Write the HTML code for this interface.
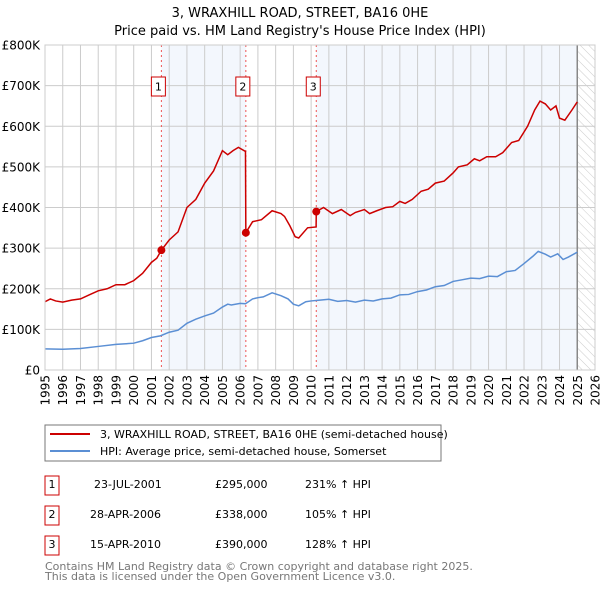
<!DOCTYPE html>
<html><head><meta charset="utf-8"><style>
body{margin:0;background:#fff;}
svg{display:block;font-family:"DejaVu Sans","Liberation Sans",sans-serif;}
</style></head><body>
<svg id="c" width="600" height="590" viewBox="0 0 600 590">
<defs><pattern id="hatch" width="6" height="6" patternUnits="userSpaceOnUse" patternTransform="rotate(-45)"><line x1="0" y1="0" x2="0" y2="6" stroke="#ccc" stroke-width="1"/></pattern></defs>
<text x="300" y="17" text-anchor="middle" font-size="13">3, WRAXHILL ROAD, STREET, BA16 0HE</text>
<text x="300" y="35" text-anchor="middle" font-size="13">Price paid vs. HM Land Registry's House Price Index (HPI)</text>
<g id="plot"></g>
<rect x="45" y="425" width="396" height="36" fill="#fff" stroke="#777"/>
<line x1="50" y1="434" x2="90" y2="434" stroke="#cc0000" stroke-width="2"/>
<text x="100" y="438" font-size="11">3, WRAXHILL ROAD, STREET, BA16 0HE (semi-detached house)</text>
<line x1="50" y1="451" x2="90" y2="451" stroke="#5b8fd4" stroke-width="2"/>
<text x="100" y="455" font-size="11">HPI: Average price, semi-detached house, Somerset</text>
<g font-size="11">
<rect x="45" y="476" width="14" height="19" fill="none" stroke="#cc0000"/><text x="52" y="488" text-anchor="middle">1</text>
<text x="94" y="488">23-JUL-2001</text><text x="215" y="488">£295,000</text><text x="305" y="488">231% ↑ HPI</text>
<rect x="45" y="506" width="14" height="19" fill="none" stroke="#cc0000"/><text x="52" y="518" text-anchor="middle">2</text>
<text x="90" y="518">28-APR-2006</text><text x="215" y="518">£338,000</text><text x="305" y="518">105% ↑ HPI</text>
<rect x="45" y="536" width="14" height="19" fill="none" stroke="#cc0000"/><text x="52" y="548" text-anchor="middle">3</text>
<text x="90" y="548">15-APR-2010</text><text x="215" y="548">£390,000</text><text x="305" y="548">128% ↑ HPI</text>
</g>
<text x="45" y="570" font-size="11" fill="#777">Contains HM Land Registry data © Crown copyright and database right 2025.</text>
<text x="45" y="580" font-size="11" fill="#777">This data is licensed under the Open Government Licence v3.0.</text>
</svg>
<script>
const yTicks=[0,100,200,300,400,500,600,700,800];
const yTickLabels=["£0","£100K","£200K","£300K","£400K","£500K","£600K","£700K","£800K"];
const xYears=[1995,1996,1997,1998,1999,2000,2001,2002,2003,2004,2005,2006,2007,2008,2009,2010,2011,2012,2013,2014,2015,2016,2017,2018,2019,2020,2021,2022,2023,2024,2025,2026];
const hpiT=[1995,1996,1997,1998,1999,2000,2000.5,2001,2001.5,2002,2002.5,2003,2003.5,2004,2004.5,2005,2005.3,2005.5,2006,2006.3,2006.7,2007,2007.3,2007.8,2008.3,2008.7,2009,2009.3,2009.7,2010,2010.5,2011,2011.5,2012,2012.5,2013,2013.5,2014,2014.5,2015,2015.5,2016,2016.5,2017,2017.5,2018,2018.5,2019,2019.5,2020,2020.5,2021,2021.5,2022,2022.5,2022.8,2023.2,2023.5,2023.9,2024.2,2024.5,2025];
const hpiV=[52,51,53,58,63,66,72,80,84,93,98,115,125,133,140,155,162,160,164,163,175,178,180,190,183,175,162,158,168,170,172,174,169,171,167,172,170,175,177,185,186,193,197,205,208,218,222,226,225,231,230,242,245,262,280,292,285,278,286,272,278,290];
const propT=[1995,1995.3,1995.6,1996,1996.5,1997,1997.5,1998,1998.5,1999,1999.5,2000,2000.5,2001,2001.3,2001.56,2002,2002.5,2003,2003.5,2004,2004.5,2005,2005.3,2005.6,2005.9,2006.3,2006.32,2006.7,2007.2,2007.8,2008.3,2008.5,2008.8,2009.1,2009.3,2009.8,2010.28,2010.29,2010.7,2011.2,2011.7,2012.2,2012.5,2013,2013.3,2013.7,2014.2,2014.6,2015,2015.3,2015.7,2016.2,2016.6,2017,2017.5,2018,2018.3,2018.8,2019.2,2019.5,2019.9,2020.4,2020.8,2021.3,2021.7,2022.2,2022.6,2022.9,2023.2,2023.5,2023.8,2024.0,2024.3,2024.7,2025];
const propV=[168,175,170,167,172,175,185,195,200,210,210,220,238,265,275,295,320,340,400,420,460,490,540,530,540,548,538,338,365,370,392,385,378,355,328,325,350,352,390,400,385,395,380,388,395,385,392,400,402,415,410,420,440,445,460,465,485,500,505,520,515,525,525,535,560,565,600,640,662,655,640,650,620,615,640,660];
const saleT=[2001.56,2006.32,2010.29];
const saleV=[295,338,390];
const saleLabels=["1","2","3"];

const NS="http://www.w3.org/2000/svg";
const g=document.getElementById('plot');
const L=45,R=595,T=45,B=370;
const x=t=>L+(t-1995)/(2026-1995)*(R-L);
const y=v=>B-v/800*(B-T);
function mk(tag,a,p){const e=document.createElementNS(NS,tag);for(const k in a)e.setAttribute(k,a[k]);(p||g).appendChild(e);return e;}

const bg=mk('rect',{x:L,y:T,width:R-L,height:B-T,fill:'#fff'});


const s1=mk('rect',{x:x(saleT[0]),y:T,width:x(saleT[1])-x(saleT[0]),height:B-T,fill:'#eef3fc',opacity:0.7});


const s3=mk('rect',{x:x(saleT[2]),y:T,width:x(2025)-x(saleT[2]),height:B-T,fill:'#eef3fc',opacity:0.7});


const hz=mk('rect',{x:x(2025),y:T,width:R-x(2025),height:B-T,fill:'url(#hatch)'});



xYears.forEach(yr=>{
  const l=mk('line',{x1:x(yr),x2:x(yr),y1:T,y2:B,stroke:'#cccccc','stroke-width':1});
  
  
  const t=mk('text',{x:0,y:0,'font-size':12,'text-anchor':'end',transform:`translate(${x(yr)+4.5},${B+5}) rotate(-90)`});
  t.textContent=yr;
  
  
});
yTicks.forEach((v,i)=>{
  const l=mk('line',{x1:L,x2:R,y1:y(v),y2:y(v),stroke:'#cccccc','stroke-width':1});
  
  
  const t=mk('text',{x:L-5,y:y(v)+4.5,'font-size':12,'text-anchor':'end'});
  t.textContent=yTickLabels[i];
  
  
});
const el=mk('line',{x1:x(2025),x2:x(2025),y1:T,y2:B,stroke:'#888','stroke-width':1.5});



saleT.forEach((t,i)=>{
  const l=mk('line',{x1:x(t),x2:x(t),y1:T,y2:B,stroke:'#ee5555','stroke-width':1,'stroke-dasharray':'2,3'});
  
  
  const b=mk('rect',{x:x(t)-10,y:77,width:14,height:19,fill:'#fff',stroke:'#cc0000'});
  
  
  const tx=mk('text',{x:x(t)-3,y:90.5,'font-size':11,'text-anchor':'middle'});
  tx.textContent=saleLabels[i];
  
  
});

const hp=mk('polyline',{points:hpiT.map((t,i)=>x(t)+','+y(hpiV[i])).join(' '),fill:'none',stroke:'#5b8fd4','stroke-width':1.5});


const pp=mk('polyline',{points:propT.map((t,i)=>x(t)+','+y(propV[i])).join(' '),fill:'none',stroke:'#cc0000','stroke-width':1.5});


saleT.forEach((t,i)=>{
  const c=mk('circle',{cx:x(t),cy:y(saleV[i]),r:4,fill:'#cc0000'});
  
  
});
const fr=mk('rect',{x:L,y:T,width:R-L,height:B-T,fill:'none',stroke:'#cccccc'});


</script>
</body></html>
